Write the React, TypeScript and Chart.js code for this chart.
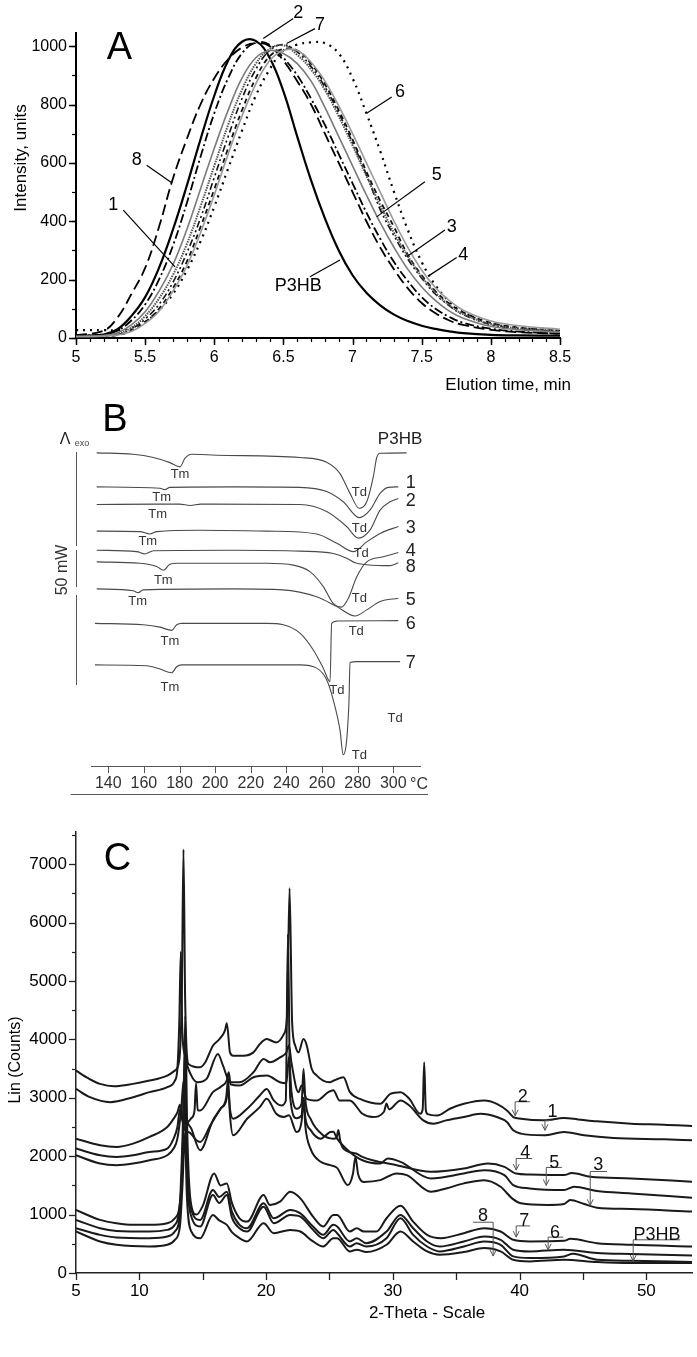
import React, { useEffect, useRef } from 'react';
import { Chart, registerables } from 'chart.js';

Chart.register(...registerables);

const FONT = '"Liberation Sans", Arial, Helvetica, sans-serif';

// ================= Panel A : GPC elution curves =================
const elutionTimes = [5.0, 5.2, 5.3, 5.4, 5.5, 5.6, 5.7, 5.8, 5.9, 6.0, 6.1, 6.2, 6.3, 6.4, 6.5, 6.6, 6.7, 6.8, 6.9, 7.0, 7.1, 7.2, 7.3, 7.4, 7.5, 7.6, 7.7, 7.8, 8.0, 8.2, 8.5];
const gpcP3HB = [8, 12, 30, 75, 140, 240, 370, 520, 680, 830, 950, 1015, 1018, 960, 845, 690, 540, 410, 300, 215, 155, 112, 80, 58, 42, 31, 23, 17, 11, 9, 8];
const gpc8 = [10, 25, 70, 150, 240, 380, 545, 680, 800, 890, 955, 995, 1010, 1000, 950, 880, 800, 700, 600, 500, 400, 310, 235, 170, 120, 85, 60, 45, 28, 20, 15];
const gpc2 = [8, 12, 25, 60, 115, 200, 315, 460, 620, 770, 890, 975, 1012, 1005, 960, 900, 820, 730, 630, 530, 430, 340, 260, 195, 140, 100, 72, 52, 32, 22, 15];
const gpc1 = [5, 8, 18, 45, 90, 160, 250, 370, 510, 650, 780, 890, 960, 985, 975, 940, 880, 790, 690, 590, 490, 395, 310, 235, 175, 128, 92, 68, 40, 28, 20];
const gpc7 = [5, 8, 15, 35, 75, 135, 215, 320, 450, 590, 730, 850, 940, 990, 1003, 970, 920, 850, 760, 660, 555, 455, 360, 280, 210, 155, 112, 82, 48, 33, 25];
const gpc5 = [5, 8, 12, 30, 65, 115, 190, 290, 410, 550, 690, 820, 920, 985, 1005, 980, 930, 860, 770, 670, 560, 440, 350, 270, 205, 150, 110, 80, 46, 32, 22];
const gpc3 = [5, 6, 10, 25, 55, 100, 170, 260, 380, 510, 650, 780, 890, 965, 990, 985, 940, 870, 780, 680, 570, 470, 380, 285, 215, 160, 118, 88, 52, 36, 25];
const gpc4 = [5, 6, 10, 22, 50, 92, 160, 245, 360, 490, 630, 760, 870, 950, 985, 985, 945, 880, 795, 700, 600, 500, 400, 310, 232, 172, 128, 95, 58, 42, 30];
const gpc6 = [27, 27, 27, 35, 55, 95, 150, 230, 330, 450, 580, 710, 830, 920, 985, 1005, 1013, 1010, 975, 890, 770, 640, 500, 370, 260, 180, 125, 88, 50, 35, 25];
const gpcXTicks = [5, 5.5, 6, 6.5, 7, 7.5, 8, 8.5];
const gpcYTicks = [0, 200, 400, 600, 800, 1000];
const gpcLabels = [
  { text: '2', tx: 6.607, ty: 1117, x1: 6.571, y1: 1095, x2: 6.354, y2: 1026 },
  { text: '7', tx: 6.764, ty: 1078, x1: 6.728, y1: 1060, x2: 6.523, y2: 1009 },
  { text: '8', tx: 5.439, ty: 615, x1: 5.511, y1: 592, x2: 5.692, y2: 532 },
  { text: '1', tx: 5.27, ty: 461, x1: 5.342, y1: 438, x2: 5.716, y2: 244 },
  { text: 'P3HB', tx: 6.607, ty: 182, x1: 6.692, y1: 210, x2: 6.909, y2: 267 },
  { text: '6', tx: 7.343, ty: 849, x1: 7.283, y1: 826, x2: 7.102, y2: 770 },
  { text: '5', tx: 7.608, ty: 564, x1: 7.523, y1: 535, x2: 7.174, y2: 415 },
  { text: '3', tx: 7.717, ty: 387, x1: 7.668, y1: 370, x2: 7.391, y2: 278 },
  { text: '4', tx: 7.8, ty: 290, x1: 7.753, y1: 276, x2: 7.547, y2: 212 },
];

// ================= Panel B : DSC thermograms =================
const dscP3HB = [[133.5, 67.2], [154, 66.9], [165.3, 66.2], [174.6, 65.1], [180.3, 64.2], [183, 66.0], [186.8, 66.9], [200.9, 66.7], [247.6, 66.2], [262.6, 65.2], [270, 62.8], [275.7, 58.5], [280.9, 55.3], [285.1, 56.7], [288.8, 62.1], [290.7, 66.2], [292.6, 67.1], [307.5, 67.2]];
const dsc1 = [[133.5, 59.9], [169, 59.6], [171.8, 59.3], [174.6, 59.8], [210.2, 59.9], [247.6, 59.8], [262.6, 58.9], [271.9, 56.7], [280.9, 53.3], [286.9, 54.9], [292.6, 58.5], [297.2, 59.8], [302.8, 59.9]];
const dsc2 = [[133.5, 56.1], [167.2, 56.2], [180, 56.2], [186, 55.9], [192, 56.2], [247.6, 56.1], [262.6, 54.6], [273.8, 51.4], [280.4, 48.9], [286.9, 50.6], [292.6, 54.9], [298.2, 56.7], [302.8, 57.4]];
const dsc3 = [[133.5, 50.4], [157.8, 50.3], [163.4, 49.8], [167.2, 50.3], [191.5, 50.6], [229, 50.4], [257, 49.8], [268.3, 47.8], [277.6, 46.0], [285.1, 48.1], [292.6, 49.9], [302.8, 51.4]];
const dsc4 = [[133.5, 46.3], [156, 46.0], [160.6, 45.5], [165.3, 46.2], [210, 46.3], [247.6, 46.1], [266.3, 45.6], [273.8, 44.6], [278.5, 43.6], [285.1, 43.2], [298.2, 43.0], [302.8, 43.6]];
const dsc8 = [[133.5, 43.8], [157.8, 43.5], [167.2, 42.8], [171, 42.0], [174.6, 43.3], [178.4, 43.5], [229, 43.5], [243.9, 43.1], [253.2, 41.7], [260.7, 38.5], [266.3, 34.9], [271, 34.1], [274.8, 36.0], [279.5, 40.6], [285.1, 43.8], [294.4, 44.9], [302.8, 45.8]];
const dsc5 = [[133.5, 38.0], [154, 37.6], [156.8, 37.2], [159.6, 37.8], [210, 38.0], [238, 37.8], [257, 36.3], [268.3, 34.2], [278.5, 32.2], [285.1, 33.5], [292.6, 35.3], [302.8, 36.0]];
const dsc6 = [[132.5, 30.6], [159.7, 30.3], [169, 29.8], [175.6, 29.1], [178.4, 30.3], [181.2, 30.6], [229, 30.6], [238.3, 30.3], [247.6, 28.5], [255.1, 24.9], [260.7, 21.0], [264.5, 18.1], [265.4, 30.6], [268.3, 31.1], [302.8, 31.2]];
const dsc7 = [[132.5, 21.7], [161.6, 21.5], [169, 20.8], [175.6, 20.0], [178.4, 21.3], [181.2, 21.7], [247.6, 21.7], [257, 21.0], [262.6, 18.5], [266.3, 14.2], [270.1, 7.7], [271.9, 2.4], [275.1, 13.5], [275.7, 22.2], [279.5, 22.4], [303.8, 22.4]];
const dscXTicks = [140, 160, 180, 200, 220, 240, 260, 280, 300];
const dscCurveLabels = [
  { text: 'P3HB', t: 303.8, v: 70.4 }, { text: '1', t: 309.8, v: 61.0 }, { text: '2', t: 309.8, v: 57.1 },
  { text: '3', t: 309.8, v: 51.4 }, { text: '4', t: 309.8, v: 46.4 }, { text: '8', t: 309.8, v: 43.1 },
  { text: '5', t: 309.8, v: 36.0 }, { text: '6', t: 309.8, v: 30.8 }, { text: '7', t: 309.8, v: 22.4 },
];
const dscTmLabels = [[180.3, 62.7], [170, 57.9], [167.7, 54.2], [162.2, 48.5], [170.9, 40.0], [156.5, 35.6], [174.6, 27.0], [174.6, 17.2]];
const dscTdLabels = [[281, 59.0], [281, 51.3], [282, 45.9], [281, 36.1], [279.2, 29.2], [268.3, 16.4], [301, 10.5], [281, 2.6]];

// ================= Panel C : XRD patterns =================
const xrd2 = [[5, 3465], [6, 3330], [6.9, 3238], [8, 3198], [9.5, 3238], [10.8, 3294], [12.2, 3380], [12.8, 3465], [13.15, 3650], [13.35, 4800], [13.48, 7250], [13.61, 4700], [13.87, 3580], [14.8, 3522], [15.2, 3607], [15.8, 3891], [16.3, 4000], [16.75, 4150], [16.9, 4277], [17.15, 3777], [17.4, 3720], [18.2, 3720], [19, 3777], [19.5, 3919], [20.05, 4004], [20.8, 3948], [21.4, 4090], [21.65, 4400], [21.85, 6589], [22.05, 4300], [22.3, 3891], [22.55, 3777], [22.95, 4004], [23.2, 3900], [23.6, 3493], [24, 3380], [24.5, 3294], [25, 3266], [25.4, 3300], [26.1, 3350], [26.6, 3100], [27.4, 2980], [29, 2897], [29.8, 3067], [30.6, 3096], [31.3, 2982], [32.15, 2726], [32.35, 2800], [32.47, 3607], [32.6, 2790], [32.75, 2720], [33.5, 2698], [34.5, 2812], [35.6, 2897], [37.2, 2954], [38.2, 2897], [39, 2783], [39.5, 2670], [40.1, 2641], [41.9, 2613], [43.5, 2653], [44.6, 2630], [46.1, 2596], [48.8, 2556], [51.4, 2540], [53.6, 2516]];
const xrd1 = [[5, 3152], [6.1, 3010], [7.7, 2925], [9.5, 3010], [10.8, 3096], [12.2, 3181], [12.8, 3294], [13.0, 3500], [13.15, 4300], [13.27, 5500], [13.38, 4200], [13.6, 3720], [14.1, 3380], [14.6, 3266], [15.3, 3323], [16.2, 3750], [16.6, 3550], [17.15, 3266], [17.9, 3266], [19, 3436], [19.8, 3664], [20.3, 3607], [21.1, 3692], [21.6, 3777], [21.8, 3900], [22.0, 3600], [22.55, 3096], [22.8, 3209], [23.2, 2982], [24, 2954], [24.9, 3096], [25.3, 3130], [25.8, 2954], [26.6, 2954], [27.6, 2726], [28.4, 2670], [29.3, 2760], [29.5, 2900], [29.7, 2800], [30.6, 2954], [31.3, 2868], [32.4, 2613], [33.2, 2556], [34.2, 2613], [35.6, 2670], [36.9, 2726], [38.2, 2670], [39, 2584], [39.5, 2442], [40.1, 2386], [41.9, 2357], [43.5, 2414], [45.1, 2357], [47.4, 2312], [51.4, 2289], [53.6, 2272]];
const xrd4 = [[5, 2300], [6.9, 2187], [8.2, 2158], [9.5, 2215], [10.8, 2329], [12.2, 2499], [12.7, 2641], [13.0, 2750], [13.2, 2880], [13.35, 2700], [13.6, 2550], [14.1, 2650], [14.35, 2780], [14.47, 3250], [14.6, 2790], [14.8, 2783], [15.8, 3096], [16.5, 3200], [16.9, 3300], [17.05, 3436], [17.2, 3230], [17.9, 3209], [19, 3351], [20.05, 3380], [21.1, 3266], [21.6, 3250], [21.8, 3700], [22.0, 3100], [22.4, 2812], [22.8, 2900], [22.95, 3493], [23.1, 2950], [23.5, 2641], [24.5, 2357], [25.3, 2300], [25.55, 2310], [25.7, 2450], [25.85, 2260], [26.1, 2130], [27.1, 2045], [27.6, 1988], [28.4, 1931], [30.3, 1846], [33, 1732], [35.6, 1789], [37.5, 1874], [38.8, 1818], [39.7, 1704], [40.8, 1687], [43.5, 1676], [44.1, 1710], [45.6, 1647], [48.8, 1619], [53.6, 1562]];
const xrd5 = [[5, 2130], [6.9, 2016], [8.2, 1988], [9.5, 2016], [10.8, 2073], [12.2, 2130], [12.7, 2300], [13.0, 2500], [13.2, 2800], [13.4, 2600], [13.6, 2450], [14.0, 2400], [14.5, 2272], [14.8, 2244], [15.6, 2527], [16.4, 2812], [16.85, 2950], [17.0, 3152], [17.15, 2800], [17.4, 2641], [18.5, 2812], [19.5, 3039], [20.05, 3152], [20.6, 2954], [21.2, 2868], [21.55, 2950], [21.72, 5800], [21.9, 3000], [22.4, 2650], [22.8, 2700], [22.95, 3000], [23.1, 2650], [23.5, 2450], [24.3, 2300], [25.05, 2414], [25.3, 2420], [25.6, 2300], [26.6, 2073], [27.6, 1931], [29, 1874], [29.6, 1960], [30.6, 1903], [33, 1619], [35.6, 1704], [37.2, 1761], [38.8, 1676], [39.5, 1505], [40.8, 1448], [43.5, 1420], [44.3, 1477], [46.1, 1403], [48.8, 1363], [53.6, 1289]];
const xrd3 = [[5, 2016], [6.9, 1874], [8.2, 1846], [9.5, 1874], [10.8, 1931], [12.2, 2016], [12.7, 2130], [13.0, 2300], [13.3, 2800], [13.5, 3300], [13.7, 2700], [14.1, 2471], [14.8, 2100], [15.8, 2613], [16.4, 2812], [16.85, 3000], [17.0, 3323], [17.15, 2700], [17.4, 2357], [18.5, 2641], [19.5, 2840], [20.05, 2982], [20.8, 2726], [21.4, 2670], [21.8, 2700], [22.4, 2414], [22.8, 2600], [22.95, 2982], [23.1, 2500], [23.5, 2130], [24.3, 1903], [25.05, 1846], [25.6, 1800], [26.45, 1505], [26.85, 1700], [27.05, 1988], [27.25, 1700], [27.7, 1560], [29, 1590], [30.3, 1704], [31.1, 1676], [33, 1392], [34.2, 1448], [35.6, 1534], [37.2, 1590], [38.5, 1477], [39.4, 1278], [40.1, 1193], [42.2, 1164], [43.5, 1180], [44, 1250], [45.1, 1180], [46.1, 1119], [48.8, 1096], [53.6, 1051]];
const xrd8 = [[5, 1079], [6.9, 909], [8.2, 852], [9.5, 824], [10.8, 824], [12.2, 852], [12.8, 937], [13.25, 1300], [13.48, 2600], [13.62, 4400], [13.78, 2400], [14.05, 1221], [14.5, 1000], [15.0, 1150], [15.9, 1704], [16.4, 1500], [16.9, 1534], [17.3, 1200], [17.9, 937], [18.5, 880], [19.8, 1335], [20.3, 1164], [21.1, 1221], [21.9, 1392], [22.7, 1278], [23.7, 966], [24.5, 795], [25.3, 994], [25.6, 994], [26.6, 710], [27.15, 767], [27.7, 710], [28.7, 710], [29.5, 937], [30.6, 1150], [31.6, 880], [32.7, 653], [33.8, 596], [35.6, 682], [37.2, 767], [38.5, 710], [39.5, 568], [40.8, 540], [43.5, 551], [44, 585], [46.1, 511], [48.8, 483], [53.6, 454]];
const xrd7 = [[5, 909], [6.9, 767], [8.2, 721], [10.8, 710], [12.2, 738], [12.8, 824], [13.2, 1200], [13.4, 2300], [13.6, 3800], [13.75, 2000], [14.1, 1079], [14.8, 909], [15.8, 1420], [16.3, 1300], [16.9, 1392], [17.3, 1050], [17.9, 824], [18.5, 767], [19.8, 1193], [20.6, 937], [21.9, 1079], [22.7, 1022], [23.7, 795], [24.5, 653], [25.3, 824], [25.6, 795], [26.6, 540], [27.15, 596], [27.9, 511], [29.5, 710], [30.6, 994], [31.6, 767], [32.7, 540], [33.7, 454], [35.6, 540], [37.2, 625], [38.5, 568], [39.5, 398], [40.8, 369], [43.5, 398], [46.1, 341], [48.8, 324], [53.6, 301]];
const xrd6 = [[5, 767], [6.9, 653], [8.2, 608], [10.8, 596], [12.2, 625], [12.8, 710], [13.2, 1000], [13.4, 1900], [13.6, 3000], [13.75, 1700], [14.1, 966], [14.8, 795], [15.8, 1335], [16.3, 1200], [16.9, 1335], [17.3, 950], [17.9, 767], [18.5, 710], [19.8, 1136], [20.6, 852], [21.9, 994], [22.7, 966], [23.7, 738], [24.5, 596], [25.3, 738], [25.6, 682], [26.6, 454], [27.15, 511], [27.9, 454], [29.5, 596], [30.6, 937], [31.6, 653], [32.7, 454], [33.7, 369], [35.6, 454], [37.2, 540], [38.5, 483], [39.5, 284], [40.8, 256], [43.5, 284], [44.2, 330], [46.1, 227], [48.8, 210], [53.6, 187]];
const xrdP3HB = [[5, 710], [6.9, 540], [8.2, 483], [10.8, 454], [12.2, 483], [12.8, 568], [13.2, 800], [13.4, 1500], [13.6, 2400], [13.75, 1300], [14.1, 710], [14.8, 596], [15.8, 994], [16.3, 900], [16.9, 824], [17.3, 700], [17.9, 596], [18.5, 540], [19.8, 852], [20.6, 682], [21.9, 738], [22.7, 710], [23.7, 540], [24.5, 454], [25.3, 596], [25.6, 596], [26.6, 369], [27.15, 400], [27.9, 358], [29.5, 483], [30.6, 710], [31.6, 540], [32.7, 369], [33.7, 312], [35.6, 358], [37.2, 426], [38.5, 369], [39.5, 227], [40.8, 199], [43.5, 227], [46.1, 187], [48.8, 170], [53.6, 170]];
const xrdXLabels = [5, 10, 20, 30, 40, 50];
const xrdYTicks = [0, 1000, 2000, 3000, 4000, 5000, 6000, 7000];
const xrdLabels = [
  { text: '2', tx: 40.25, ty: 3044, ax: 39.65, bx: 40.83, by: 2932, ay: 2693 },
  { text: '1', tx: 42.6, ty: 2783, ax: 42.0, bx: 42.6, by: 2613, ay: 2443 },
  { text: '4', tx: 40.44, ty: 2085, ax: 39.73, bx: 40.99, by: 1960, ay: 1762 },
  { text: '5', tx: 42.73, ty: 1909, ax: 42.1, bx: 43.33, by: 1807, ay: 1500 },
  { text: '3', tx: 46.2, ty: 1875, ax: 45.57, bx: 46.9, by: 1738, ay: 1159 },
  { text: '8', tx: 37.12, ty: 994, ax: 37.91, bx: 36.33, by: 869, ay: 290 },
  { text: '7', tx: 40.36, ty: 909, ax: 39.73, bx: 40.83, by: 806, ay: 614 },
  { text: '6', tx: 42.8, ty: 716, ax: 42.25, bx: 43.44, by: 614, ay: 397 },
  { text: 'P3HB', tx: 50.83, ty: 682, ax: 48.96, bx: 52.67, by: 568, ay: 205 },
];

// ================= helpers =================
function drawText(ctx: CanvasRenderingContext2D, s: string, x: number, y: number, size: number, color = '#000', align: CanvasTextAlign = 'center', rot = 0) {
  ctx.save();
  ctx.translate(x, y);
  if (rot) ctx.rotate(rot);
  ctx.font = `${size}px ${FONT}`;
  ctx.fillStyle = color;
  ctx.textAlign = align;
  ctx.textBaseline = 'alphabetic';
  ctx.fillText(s, 0, size * 0.36);
  ctx.restore();
}
function drawLine(ctx: CanvasRenderingContext2D, pts: number[][], color: string, w: number) {
  ctx.save();
  ctx.strokeStyle = color;
  ctx.lineWidth = w;
  ctx.beginPath();
  pts.forEach(([x, y], i) => (i ? ctx.lineTo(x, y) : ctx.moveTo(x, y)));
  ctx.stroke();
  ctx.restore();
}
function xTickMarks(chart: any, values: number[], len: number, color: string, w: number) {
  const s = chart.scales.x;
  const y0 = chart.chartArea.bottom;
  values.forEach((v) => {
    const px = Math.round(s.getPixelForValue(v)) + 0.5;
    drawLine(chart.ctx, [[px, y0], [px, y0 + len]], color, w);
  });
}
function yTickMarks(chart: any, values: number[], len: number, color: string, w: number) {
  const s = chart.scales.y;
  const x0 = chart.chartArea.left;
  values.forEach((v) => {
    const py = Math.round(s.getPixelForValue(v)) + 0.5;
    drawLine(chart.ctx, [[x0 - len, py], [x0, py]], color, w);
  });
}
function steps(a: number, b: number, n: number) {
  const out: number[] = [];
  for (let i = 0; i <= n; i++) out.push(+(a + ((b - a) * i) / n).toFixed(4));
  return out;
}
const tickFont = (size: number) => ({ family: FONT, size });

// ================= chart builders =================
function buildA(canvas: HTMLCanvasElement) {
  const series = [
    { name: '4', values: gpc4, color: '#9a9a9a', width: 1.6, dash: [] as number[] },
    { name: '1', values: gpc1, color: '#7a7a7a', width: 1.6, dash: [] as number[] },
    { name: '7', values: gpc7, color: '#555', width: 2, dash: [1.5, 1] },
    { name: '3', values: gpc3, color: '#111', width: 1.8, dash: [5, 4] },
    { name: '5', values: gpc5, color: '#111', width: 1.6, dash: [7, 3, 2, 3, 2, 3] },
    { name: '6', values: gpc6, color: '#000', width: 2.2, dash: [2, 5] },
    { name: '2', values: gpc2, color: '#000', width: 1.8, dash: [9, 3, 2, 3] },
    { name: '8', values: gpc8, color: '#000', width: 1.8, dash: [11, 5] },
    { name: 'P3HB', values: gpcP3HB, color: '#000', width: 2.2, dash: [] as number[] },
  ];
  return new Chart(canvas, {
    type: 'line',
    data: {
      datasets: series.map((s) => ({
        label: s.name,
        data: elutionTimes.map((t, i) => ({ x: t, y: s.values[i] })),
        borderColor: s.color,
        borderWidth: s.width,
        borderDash: s.dash,
        pointRadius: 0,
        fill: false,
        tension: 0.4,
      })),
    },
    options: {
      animation: false,
      responsive: false,
      events: [],
      layout: { padding: { left: 0, right: 137, top: 33, bottom: 32 } },
      plugins: { legend: { display: false }, tooltip: { enabled: false } },
      scales: {
        x: {
          type: 'linear', min: 5, max: 8.5,
          afterBuildTicks: (s: any) => { s.ticks = gpcXTicks.map((v) => ({ value: v })); },
          afterFit: (s: any) => { s.height = 30; },
          grid: { drawOnChartArea: false, drawTicks: false },
          border: { color: '#000', width: 2 },
          ticks: { callback: (v: any) => String(v), font: tickFont(16), color: '#000', padding: 10, maxRotation: 0, autoSkip: false },
        },
        y: {
          type: 'linear', min: 0, max: 1045,
          afterBuildTicks: (s: any) => { s.ticks = gpcYTicks.map((v) => ({ value: v })); },
          afterFit: (s: any) => { s.width = 76; },
          grid: { drawOnChartArea: false, drawTicks: false },
          border: { color: '#000', width: 2 },
          ticks: { callback: (v: any) => String(v), font: tickFont(16), color: '#000', padding: 9, autoSkip: false },
        },
      },
    } as any,
    plugins: [{
      id: 'annA',
      afterDraw: (chart: any) => {
        const ctx = chart.ctx as CanvasRenderingContext2D;
        const sx = chart.scales.x, sy = chart.scales.y;
        xTickMarks(chart, steps(5, 8.5, 35), 4, '#000', 1.2);
        xTickMarks(chart, gpcXTicks, 7, '#000', 1.5);
        yTickMarks(chart, steps(0, 1000, 10), 4, '#000', 1.2);
        yTickMarks(chart, gpcYTicks, 7, '#000', 1.5);
        gpcLabels.forEach((l) => {
          drawLine(ctx, [[sx.getPixelForValue(l.x1), sy.getPixelForValue(l.y1)], [sx.getPixelForValue(l.x2), sy.getPixelForValue(l.y2)]], '#000', 1.2);
          drawText(ctx, l.text, sx.getPixelForValue(l.tx), sy.getPixelForValue(l.ty), 18);
        });
        drawText(ctx, 'A', 119.5, 45, 38);
        drawText(ctx, 'Intensity, units', 20, 158, 17, '#000', 'center', -Math.PI / 2);
        drawText(ctx, 'Elution time, min', 571, 384, 17, '#000', 'right');
      },
    }],
  });
}

function buildB(canvas: HTMLCanvasElement) {
  const curves = [dscP3HB, dsc1, dsc2, dsc3, dsc4, dsc8, dsc5, dsc6, dsc7];
  return new Chart(canvas, {
    type: 'line',
    data: {
      datasets: curves.map((c) => ({
        data: c.map(([t, v]) => ({ x: t, y: v })),
        borderColor: '#4a4a4a',
        borderWidth: 1.1,
        pointRadius: 0,
        fill: false,
        cubicInterpolationMode: 'monotone' as const,
      })),
    },
    options: {
      animation: false,
      responsive: false,
      events: [],
      layout: { padding: { left: 91.7, right: 277, top: 39.8, bottom: 14 } },
      plugins: { legend: { display: false }, tooltip: { enabled: false } },
      scales: {
        x: {
          type: 'linear', min: 130.7, max: 315,
          afterBuildTicks: (s: any) => { s.ticks = dscXTicks.map((v) => ({ value: v })); },
          afterFit: (s: any) => { s.height = 30; },
          grid: { drawOnChartArea: false, drawTicks: false },
          border: { color: '#555', width: 1 },
          ticks: { callback: (v: any) => String(v), font: tickFont(16), color: '#333', padding: 8, maxRotation: 0, autoSkip: false },
        },
        y: { type: 'linear', min: 0, max: 70, display: false },
      },
    } as any,
    plugins: [{
      id: 'annB',
      afterDraw: (chart: any) => {
        const ctx = chart.ctx as CanvasRenderingContext2D;
        const sx = chart.scales.x, sy = chart.scales.y;
        xTickMarks(chart, dscXTicks, 7, '#555', 1);
        drawText(ctx, '°C', 410, 383, 16, '#333', 'left');
        drawLine(ctx, [[70.7, 394.5], [428, 394.5]], '#555', 1);
        dscCurveLabels.forEach((l) => drawText(ctx, l.text, sx.getPixelForValue(l.t), sy.getPixelForValue(l.v), l.text === 'P3HB' ? 17 : 18, '#222'));
        dscTmLabels.forEach(([t, v]) => drawText(ctx, 'Tm', sx.getPixelForValue(t), sy.getPixelForValue(v), 13, '#333'));
        dscTdLabels.forEach(([t, v]) => drawText(ctx, 'Td', sx.getPixelForValue(t), sy.getPixelForValue(v), 13, '#333'));
        drawText(ctx, 'B', 115, 17, 38);
        drawText(ctx, 'Λ', 65, 38.5, 16, '#222');
        drawText(ctx, 'exo', 82, 43, 9, '#444');
        drawText(ctx, '50 mW', 61.5, 170, 16, '#333', 'center', -Math.PI / 2);
        drawLine(ctx, [[76.5, 52], [76.5, 146]], '#555', 1);
        drawLine(ctx, [[76.5, 150], [76.5, 187]], '#555', 1);
        drawLine(ctx, [[76.5, 195], [76.5, 285]], '#555', 1);
      },
    }],
  });
}

function buildC(canvas: HTMLCanvasElement) {
  const curves = [xrd2, xrd1, xrd4, xrd5, xrd3, xrd8, xrd7, xrd6, xrdP3HB];
  return new Chart(canvas, {
    type: 'line',
    data: {
      datasets: curves.map((c) => ({
        data: c.map(([t, v]) => ({ x: t, y: v })),
        borderColor: '#1a1a1a',
        borderWidth: 2,
        pointRadius: 0,
        fill: false,
        cubicInterpolationMode: 'monotone' as const,
      })),
    },
    options: {
      animation: false,
      responsive: false,
      events: [],
      layout: { padding: { left: 0, right: 5, top: 22, bottom: 44 } },
      plugins: { legend: { display: false }, tooltip: { enabled: false } },
      scales: {
        x: {
          type: 'linear', min: 5, max: 53.6,
          afterBuildTicks: (s: any) => { s.ticks = xrdXLabels.map((v) => ({ value: v })); },
          afterFit: (s: any) => { s.height = 40; },
          grid: { drawOnChartArea: false, drawTicks: false },
          border: { color: '#222', width: 1.5 },
          ticks: { callback: (v: any) => String(v), font: tickFont(17), color: '#000', padding: 8, maxRotation: 0, autoSkip: false },
        },
        y: {
          type: 'linear', min: 0, max: 7550,
          afterBuildTicks: (s: any) => { s.ticks = xrdYTicks.map((v) => ({ value: v })); },
          afterFit: (s: any) => { s.width = 76; },
          grid: { drawOnChartArea: false, drawTicks: false },
          border: { color: '#222', width: 1.5 },
          ticks: { callback: (v: any) => String(v), font: tickFont(17), color: '#000', padding: 9, autoSkip: false },
        },
      },
    } as any,
    plugins: [{
      id: 'annC',
      afterDraw: (chart: any) => {
        const ctx = chart.ctx as CanvasRenderingContext2D;
        const sx = chart.scales.x, sy = chart.scales.y;
        xTickMarks(chart, steps(5, 50, 9), 7, '#222', 1.3);
        yTickMarks(chart, xrdYTicks, 7, '#222', 1.3);
        yTickMarks(chart, steps(500, 7500, 7), 4, '#222', 1.2);
        xrdLabels.forEach((l) => {
          const ax = sx.getPixelForValue(l.ax), bx = sx.getPixelForValue(l.bx);
          const by = sy.getPixelForValue(l.by), ay = sy.getPixelForValue(l.ay);
          drawLine(ctx, [[bx, by], [ax, by], [ax, ay]], '#555', 1);
          drawLine(ctx, [[ax - 3, ay - 6], [ax, ay], [ax + 3, ay - 6]], '#555', 1);
          drawText(ctx, l.text, sx.getPixelForValue(l.tx), sy.getPixelForValue(l.ty), 18, '#111');
        });
        drawText(ctx, 'C', 117.5, 46, 38);
        drawText(ctx, 'Lin (Counts)', 14, 250, 16, '#000', 'center', -Math.PI / 2);
        drawText(ctx, '2-Theta - Scale', 427, 502, 17, '#000');
      },
    }],
  });
}

function Panel({ top, height, build }: { top: number; height: number; build: (c: HTMLCanvasElement) => Chart }) {
  const ref = useRef<HTMLCanvasElement>(null);
  useEffect(() => {
    const chart = build(ref.current as HTMLCanvasElement);
    return () => chart.destroy();
  }, [build]);
  return <canvas ref={ref} width={697} height={height} style={{ position: 'absolute', left: 0, top, width: 697, height }} />;
}

export default function App() {
  return (
    <div style={{ position: 'absolute', left: 0, top: 0, width: 697, height: 1357, background: '#fff', overflow: 'hidden' }}>
      <Panel top={0} height={400} build={buildA} />
      <Panel top={410 - 10} height={410} build={buildB} />
      <Panel top={810} height={547} build={buildC} />
    </div>
  );
}
